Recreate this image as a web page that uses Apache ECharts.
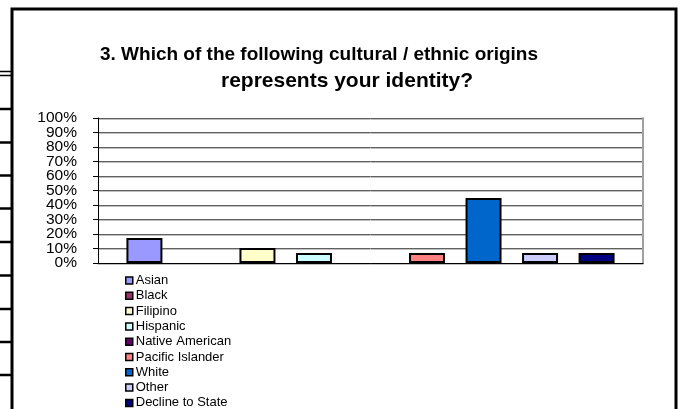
<!DOCTYPE html>
<html>
<head>
<meta charset="utf-8">
<script src="https://cdn.jsdelivr.net/npm/echarts@6/dist/echarts.min.js"></script>
<style>html,body{margin:0;padding:0;background:#fff}#c{width:680px;height:409px}</style>
</head>
<body>
<div id="c"></div>
<script>
var titleLine1 = '3. Which of the following cultural / ethnic origins';
var titleLine2 = 'represents your identity?';
var seriesNames = ['Asian', 'Black', 'Filipino', 'Hispanic', 'Native American', 'Pacific Islander', 'White', 'Other', 'Decline to State'];
var seriesValues = [0.172, 0, 0.103, 0.069, 0, 0.069, 0.448, 0.069, 0.069];
var seriesColors = ['#9999FF', '#993366', '#FFFFCC', '#CCFFFF', '#660066', '#FF8080', '#0066CC', '#CCCCFF', '#000080'];
var categories = [''];

var chart = echarts.init(document.getElementById('c'));
var font = 'Arial, "Liberation Sans", sans-serif';

var series = seriesNames.map(function (n, i) {
  var v = seriesValues[i];
  return {
    name: n,
    type: 'bar',
    data: [v === 0 ? { value: v, itemStyle: { borderWidth: 0, opacity: 0 } } : v],
    barWidth: 36,
    barGap: '57%',
    itemStyle: { color: seriesColors[i], borderColor: '#000', borderWidth: 2 }
  };
});

var sideLines = [71.5, 75.5, 109, 142.5, 175.5, 208.5, 242, 275.5, 309, 342, 375];
var graphics = [{
  type: 'rect', shape: { x: 12, y: 9, width: 664, height: 420 },
  style: { fill: null, stroke: '#000', lineWidth: 3 }, z: 100
}];
sideLines.forEach(function (y, i) {
  graphics.push({ type: 'line', shape: { x1: 0, y1: y, x2: 11, y2: y },
    style: { stroke: '#000', lineWidth: (i < 2 ? 1.5 : 2.5) }, z: 100 });
});

function pct(v) { return Math.round(v * 100) + '%'; }
var labelBase = { margin: 21, fontFamily: font, fontSize: 15.5, lineHeight: 12, color: '#000', hideOverlap: false };

chart.setOption({
  backgroundColor: '#fff',
  animation: false,
  title: [
    { text: titleLine1, left: 314, top: 40, textAlign: 'center',
      textStyle: { fontFamily: font, fontSize: 19, fontWeight: 'bold', color: '#000' } },
    { text: titleLine2, left: 342, top: 66, textAlign: 'center',
      textStyle: { fontFamily: font, fontSize: 21, fontWeight: 'bold', color: '#000' } }
  ],
  legend: {
    orient: 'vertical', left: 125, top: 274, padding: 0, height: 200,
    itemWidth: 7, itemHeight: 7, itemGap: 2.3, icon: 'rect',
    itemStyle: { borderWidth: 1.5, borderColor: '#000' },
    textStyle: { fontFamily: font, fontSize: 13, color: '#000', lineHeight: 13, padding: [0, 0, 0, -2] },
    data: seriesNames
  },
  grid: { left: 98, right: 37, top: 118, bottom: 146 },
  xAxis: [{
    type: 'category', data: categories, position: 'bottom',
    axisLine: { lineStyle: { color: '#808080', width: 1, shadowColor: '#c0c0c0', shadowOffsetY: 1 } },
    axisTick: { show: false }, axisLabel: { show: false }
  }, {
    type: 'category', data: categories, position: 'top',
    axisLine: { lineStyle: { color: '#000', width: 1 } },
    axisTick: { show: false }, axisLabel: { show: false }
  }],
  yAxis: [{
    type: 'value', min: 0, max: 1, interval: 0.1,
    axisLine: { show: true, lineStyle: { color: '#000', width: 1 } },
    axisTick: { show: true, length: 5, lineStyle: { color: '#000' } },
    axisLabel: Object.assign({}, labelBase, { showMinLabel: true, showMaxLabel: true,
      formatter: function (v) { return Math.round(v * 10) % 2 === 0 ? pct(v) : ''; } }),
    splitLine: { lineStyle: { color: '#606060', width: 1, shadowColor: '#c0c0c0', shadowOffsetY: 1 } }
  }, {
    type: 'value', min: 0, max: 1, interval: 0.1, position: 'right',
    axisLine: { show: true, lineStyle: { color: '#a0a0a0', width: 2 } },
    axisTick: { show: false }, axisLabel: { show: false }, splitLine: { show: false }
  }, {
    type: 'value', min: 0, max: 1, interval: 0.1, position: 'left',
    axisLine: { show: false }, axisTick: { show: false }, splitLine: { show: false },
    axisLabel: Object.assign({}, labelBase, { showMinLabel: false, showMaxLabel: false,
      formatter: function (v) { return Math.round(v * 10) % 2 === 1 ? pct(v) : ''; } })
  }],
  graphic: graphics,
  series: series
});
</script>
</body>
</html>
